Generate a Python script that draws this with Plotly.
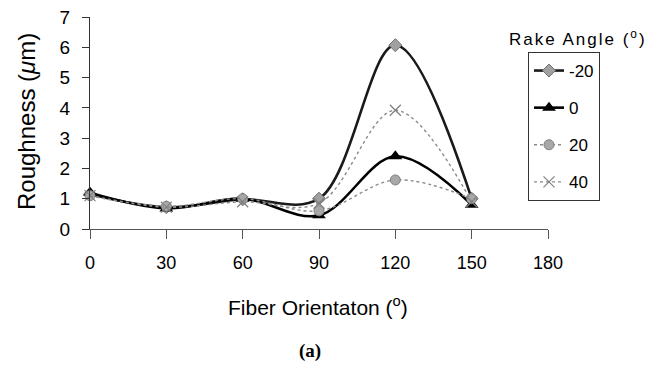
import plotly.graph_objects as go

fiber_orientation = [0, 30, 60, 90, 120, 150]
rake_labels = ["-20", "0", "20", "40"]
rough_m20 = [1.15, 0.72, 0.98, 1.0, 6.07, 1.0]
rough_0 = [1.2, 0.68, 1.0, 0.45, 2.4, 0.8]
rough_20 = [1.1, 0.75, 1.0, 0.6, 1.62, 1.0]
rough_40 = [1.1, 0.72, 0.9, 0.85, 3.92, 0.9]

x_ticks = [0, 30, 60, 90, 120, 150, 180]
y_ticks = [0, 1, 2, 3, 4, 5, 6, 7]

FONT = "Liberation Sans, Arial, sans-serif"
W, H = 651, 369
L, R, T, B = 90, 103, 17, 140
PW, PH = W - L - R, H - T - B

styles = [
    dict(line=dict(color="#1a1a1a", width=2.6, shape="spline", smoothing=1.0),
         marker=dict(symbol="diamond", size=10, color="#a0a0a0", line=dict(color="#707070", width=1))),
    dict(line=dict(color="#000000", width=2.6, shape="spline", smoothing=1.0),
         marker=dict(symbol="triangle-up", size=12, color="#000000")),
    dict(line=dict(color="#8a8a8a", width=1.4, dash="dot", shape="spline", smoothing=1.0),
         marker=dict(symbol="circle", size=10, color="#a8a8a8", line=dict(color="#808080", width=1))),
    dict(line=dict(color="#8a8a8a", width=1.4, dash="dot", shape="spline", smoothing=1.0),
         marker=dict(symbol="x-thin", size=11, color="#808080", line=dict(color="#808080", width=1.2))),
]

fig = go.Figure()
for i, (lab, ys) in enumerate(zip(rake_labels, [rough_m20, rough_0, rough_20, rough_40])):
    fig.add_trace(go.Scatter(
        x=fiber_orientation, y=ys, name=lab, mode="lines+markers",
        legendgroup=lab, cliponaxis=False, **styles[i]))


def px(x):
    return (x - L) / PW


def py(y):
    return (H - B - y) / PH


fig.update_layout(
    width=W, height=H,
    margin=dict(l=L, r=R, t=T, b=B, autoexpand=False),
    plot_bgcolor="white", paper_bgcolor="white",
    font=dict(family=FONT, size=17, color="#000"),
    showlegend=True,
    legend=dict(
        x=px(528), y=py(52), xanchor="left", yanchor="top",
        bordercolor="#333", borderwidth=1, bgcolor="white",
        font=dict(family=FONT, size=17),
        traceorder="grouped", tracegroupgap=12,
        itemwidth=30,
    ),
    xaxis=dict(
        range=[0, 180], tickvals=x_ticks, ticktext=[str(v) for v in x_ticks],
        showgrid=False, zeroline=False, showline=True, linecolor="#555", linewidth=1,
        ticks="outside", ticklen=9, tickcolor="#555", ticklabelstandoff=8,
        tickfont=dict(family=FONT, size=18),
    ),
    yaxis=dict(
        range=[0, 7], tickvals=y_ticks, ticktext=[str(v) for v in y_ticks],
        showgrid=False, zeroline=False, showline=True, linecolor="#333", linewidth=1,
        ticks="outside", ticklen=7, tickcolor="#333", ticklabelstandoff=8,
        tickfont=dict(family=FONT, size=19),
    ),
    annotations=[
        dict(text="Roughness (<i>μ</i>m)", x=px(27), y=py(122),
             showarrow=False, textangle=-90, font=dict(family=FONT, size=24)),
        dict(text="Fiber Orientaton (<sup>o</sup>)", x=px(318), y=py(306),
             showarrow=False, font=dict(family=FONT, size=21)),
        dict(text="<b>(a)</b>", x=px(310), y=py(351),
             showarrow=False, font=dict(family="Liberation Serif, Times New Roman, serif", size=19)),
        dict(text="<span style='letter-spacing:2px'>Rake Angle (<sup>o</sup>)</span>",
             x=px(578), y=py(38),
             showarrow=False, font=dict(family=FONT, size=17)),
    ],
)
for a in fig.layout.annotations:
    a.update(xref="paper", yref="paper", xanchor="center", yanchor="middle")

fig.write_html("out.html", config={"displayModeBar": False},
               post_script="document.body.style.margin='0';document.body.style.padding='0';")
